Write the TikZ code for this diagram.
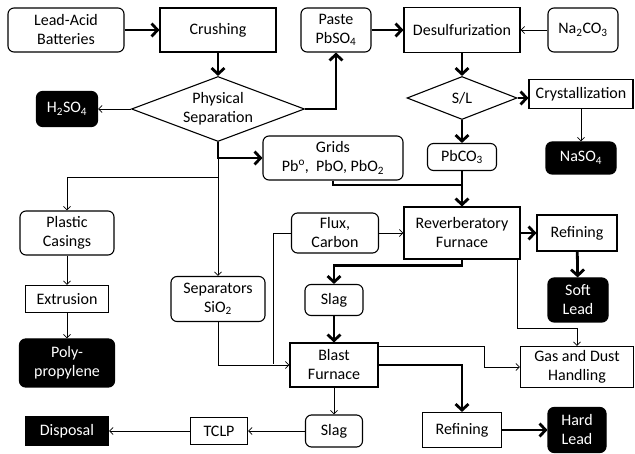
\documentclass[tikz,border=0pt]{standalone}
\usepackage{fontspec}
\setmainfont{Carlito}
\usetikzlibrary{arrows.meta,shapes.geometric}
\tikzset{line width=.8pt,
  every node/.style={font=\fontsize{16}{19}\selectfont,align=center,inner sep=1pt},
  sz/.style 2 args={minimum width=#1pt,minimum height=#2pt},
  proc/.style={draw,line width=1.1pt},
  matl/.style={proc,rounded corners=6pt},
  prod/.style={matl,fill=black,text=white},
  waste/.style={proc,fill=black,text=white},
  decide/.style={diamond,draw,line width=1.1pt,inner sep=0pt},
  flow/.style={-{Straight Barb[length=3.5pt,width=7pt]},line width=.8pt},
  mainline/.style={line width=2.8pt},
  main/.style={mainline,-{Straight Barb[length=6pt,width=13pt]}}}

\begin{document}
\begin{tikzpicture}[x=1pt,y=-1pt]
\useasboundingbox (0,0) rectangle (635,454);
% top row
\node[matl,sz={116}{44}] (batt) at (66,30) {Lead-Acid\\Batteries};
\node[proc,sz={116}{44}] (crush) at (218,30) {Crushing};
\node[matl,sz={70}{44}] (paste) at (336,30) {Paste\\PbSO\textsubscript{4}};
\node[proc,sz={116}{45}] (desulf) at (462,30) {Desulfurization};
\node[matl,sz={70}{44}] (naco) at (583,30) {Na\textsubscript{2}CO\textsubscript{3}};
% separation
\node[decide,aspect=2.66,sz={173}{65}] (sep) at (218,109) {Physical\\Separation};
\node[prod,sz={61}{35}] (hso) at (67,109) {H\textsubscript{2}SO\textsubscript{4}};
\node[decide,aspect=2.55,sz={110}{43}] (sl) at (462,98) {S/L};
\node[proc,sz={104}{29}] (cryst) at (581,94) {Crystallization};
\node[prod,sz={70}{32}] (naso) at (581,158) {NaSO\textsubscript{4}};
\node[matl,sz={140}{44}] (grids) at (333,158) {Grids\\Pb\textsuperscript{o},\ \ PbO, PbO\textsubscript{2}};
\node[matl,sz={69}{27}] (pbco) at (462,157) {PbCO\textsubscript{3}};
% plastics
\node[matl,sz={94}{44}] (casing) at (67,233) {Plastic\\Casings};
\node[proc,sz={83}{27}] (extr) at (67,299) {Extrusion};
\node[prod,sz={95}{48}] (poly) at (67,363) {Poly-\\propylene};
\node[matl,sz={94}{45}] (seps) at (218,299) {Separators\\SiO\textsubscript{2}};
% furnaces
\node[matl,sz={87}{40}] (flux) at (335,233) {Flux,\\Carbon};
\node[proc,sz={116}{52}] (reverb) at (462,233) {Reverberatory\\Furnace};
\node[proc,sz={80}{36}] (refsoft) at (577,233) {Refining};
\node[prod,sz={60}{44}] (soft) at (578,300) {Soft\\Lead};
\node[matl,sz={58}{31}] (slagA) at (334,300) {Slag};
\node[proc,sz={88}{44}] (blast) at (334,365) {Blast\\Furnace};
\node[proc,sz={113}{41}] (gas) at (577,367) {Gas and Dust\\Handling};
% bottom row
\node[matl,sz={57}{32}] (slagB) at (334,431) {Slag};
\node[proc,sz={57}{27}] (tclp) at (219,431) {TCLP};
\node[waste,sz={83}{28}] (disp) at (67,431) {Disposal};
\node[proc,sz={79}{35}] (refhard) at (462,430) {Refining};
\node[prod,sz={58}{45}] (hard) at (577,430) {Hard\\Lead};
\coordinate (split) at (218,177);
\coordinate (grjoin) at (462,185);
\coordinate (fluxdown) at (273,364);

\draw[main] (batt) -- (crush);
\draw[main] (crush) -- (sep);
\draw[flow] (sep.west) -- (hso);
\draw[main] (sep.east) -| (paste.south);
\draw[main] (paste) -- (desulf);
\draw[flow] (naco) -- (desulf);
\draw[main] (desulf) -- (sl);
\draw[main] (sl.east) -- (sl.east -| cryst.west);
\draw[flow] (cryst) -- (naso);
\draw[main] (sl) -- (pbco);
\draw[main] (sep.south) |- (grids.west);
\draw[flow] (sep.south |- grids.west) -- (seps.north);
\draw[flow] (split) -| (casing.north);
\draw[flow] (casing) -- (extr);
\draw[flow] (extr) -- (poly);
\draw[mainline] (grids.south) |- (grjoin);
\draw[main] (pbco) -- (reverb);
\draw[flow] (flux) -- (reverb);
\draw (flux.west) -| (fluxdown);
\draw[flow] (seps.south) |- (blast.west);
\draw[main] (reverb) -- (refsoft);
\draw[main] (refsoft) -- (soft);
\draw[main] (reverb.south) -- ++(0,6) -| (slagA.north);
\draw[flow] ([xshift=-3pt]reverb.south east) -- ++(0,69) -| (gas.north);
\draw[main] (slagA) -- (blast);
\draw[flow] ([yshift=-4pt]blast.north east) -- ++(106,0) |- (gas.west);
\draw[main] (blast.east) -| (refhard.north);
\draw[main] (refhard) -- (hard);
\draw[flow] (blast) -- (slagB);
\draw[flow] (slagB) -- (tclp);
\draw[flow] (tclp) -- (disp);
\end{tikzpicture}
\end{document}
